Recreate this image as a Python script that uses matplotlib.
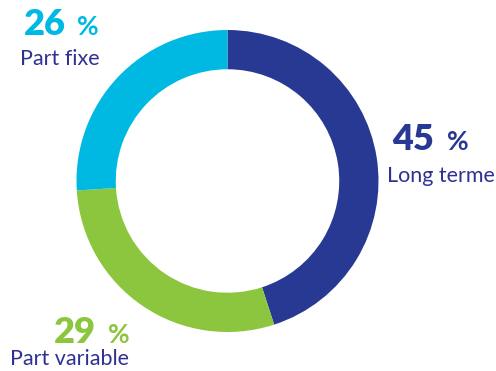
import matplotlib
matplotlib.use("Agg")
import matplotlib.pyplot as plt

# data
labels = ["Long terme", "Part variable", "Part fixe"]
values = [45, 29, 26]
colors = ["#283993", "#8CC63F", "#00B9E3"]
text_color = "#2E3192"

W, H = 496, 371
fig = plt.figure(figsize=(W / 100, H / 100), dpi=100)
plt.rcParams["font.family"] = ["Lato", "DejaVu Sans"]

# donut, centre at (227.5, 181) px, outer radius ~151 px
cx, cy, r = 227.5, 181, 151
ax = fig.add_axes([(cx - r) / W, 1 - (cy + r) / H, 2 * r / W, 2 * r / H])
ax.pie(values, colors=colors, startangle=90, counterclock=False,
       wedgeprops=dict(width=0.26, edgecolor="none"))
ax.set_xlim(-1, 1)
ax.set_ylim(-1, 1)
ax.set_aspect("equal")
ax.axis("off")


def px(x, y):
    return x / W, 1 - y / H


# label positions in px: (number left x, percent right x, baseline y, label x, label baseline, label align)
label_pos = {
    "Long terme": (392, 469, 150, 495, 182, "right"),
    "Part variable": (54, 130, 343, 129, 365, "right"),
    "Part fixe": (24, 99, 35, 100, 65, "right"),
}

for lab, val, col in zip(labels, values, colors):
    nx, prx, by, lx, lby, al = label_pos[lab]
    fig.text(*px(nx, by), str(val), color=col, fontsize=26, fontweight="heavy",
             ha="left", va="baseline")
    fig.text(*px(prx, by), "%", color=col, fontsize=19, fontweight="bold",
             ha="right", va="baseline")
    fig.text(*px(lx, lby), lab, color=text_color, fontsize=15.5,
             ha=al, va="baseline")

fig.savefig("out.png", dpi=100)
